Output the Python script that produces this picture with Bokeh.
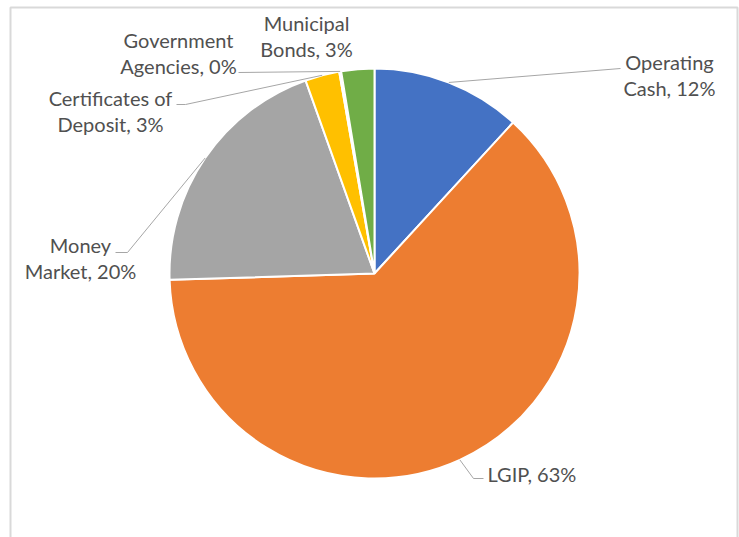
import math
from bokeh.plotting import figure
from bokeh.models import Range1d, ColumnDataSource
from bokeh.core.properties import value
from bokeh.embed import file_html
from bokeh.resources import INLINE

# ---- data ----
categories = ["Operating Cash", "LGIP", "Money Market", "Certificates of Deposit",
              "Government Agencies", "Municipal Bonds"]
amounts = [11.8, 62.6, 20.0, 2.7, 0.15, 2.6]
colors = ["#4472C4", "#ED7D31", "#A5A5A5", "#FFC000", "#5B9BD5", "#70AD47"]
label_lines = [["Operating", "Cash"], ["LGIP"], ["Money", "Market"],
               ["Certificates of", "Deposit"], ["Government", "Agencies"],
               ["Municipal", "Bonds"]]

# ---- layout (pixel coordinates, y down) ----
W, H = 739, 537
CX, CY, R = 374, 273, 205
FONT = "Lato"
FSIZE = "20px"
LINE_GAP = 26
TEXT_COLOR = "#505050"
LEADER_COLOR = "#A6A6A6"
# label anchor (x, y of first line centre, align)
label_pos = [
    (669, 61, "center"),
    (487, 473, "left"),
    (80, 244, "center"),
    (110, 97, "center"),
    (178, 39, "center"),
    (306, 22, "center"),
]
# leader line bend points after the slice edge point
leader_bends = [
    [(620, 68)],
    [(473, 478), (483, 478)],
    [(127, 252), (115, 252)],
    [(185, 104), (176, 104)],
    [(238, 72)],
    None,
]


def py(y):
    return H - y


total = sum(amounts)
fracs = [a / total for a in amounts]
pcts = [round(f * 100) for f in fracs]

p = figure(width=W, height=H, x_range=Range1d(0, W), y_range=Range1d(0, H),
           output_backend="svg", toolbar_location=None, min_border=0)
p.axis.visible = False
p.grid.visible = False
p.outline_line_color = None
p.background_fill_color = "white"
p.border_fill_color = "white"

# chart frame
p.line([10, 10, 737, 737], [py(537), py(7), py(7), py(537)], line_color="#D9D9D9", line_width=2)

starts, ends, mids = [], [], []
cum = 0.0
for f in fracs:
    a0 = math.pi / 2 - 2 * math.pi * (cum + f)
    a1 = math.pi / 2 - 2 * math.pi * cum
    starts.append(a0)
    ends.append(a1)
    mids.append(cum + f / 2)
    cum += f

src = ColumnDataSource(dict(start=starts, end=ends, color=colors, cat=categories))
p.wedge(x=CX, y=py(CY), radius=R, start_angle="start", end_angle="end",
        fill_color="color", line_color="white", line_width=2, source=src)

# leader lines
for i, bends in enumerate(leader_bends):
    if not bends:
        continue
    th = 2 * math.pi * mids[i]
    ex = CX + R * math.sin(th)
    ey = CY - R * math.cos(th)
    xs = [ex] + [b[0] for b in bends]
    ys = [py(ey)] + [py(b[1]) for b in bends]
    p.line(xs, ys, line_color=LEADER_COLOR, line_width=1)

# labels
for i, lines in enumerate(label_lines):
    lx, ly, align = label_pos[i]
    texts = list(lines)
    texts[-1] = f"{texts[-1]}, {pcts[i]}%"
    for j, t in enumerate(texts):
        p.text(x=[lx], y=[py(ly + j * LINE_GAP)], text=[t], text_align=align,
               text_baseline="middle", text_font=value(FONT), text_font_size=FSIZE,
               text_color=TEXT_COLOR)

open("out.html", "w").write(file_html(p, INLINE))
